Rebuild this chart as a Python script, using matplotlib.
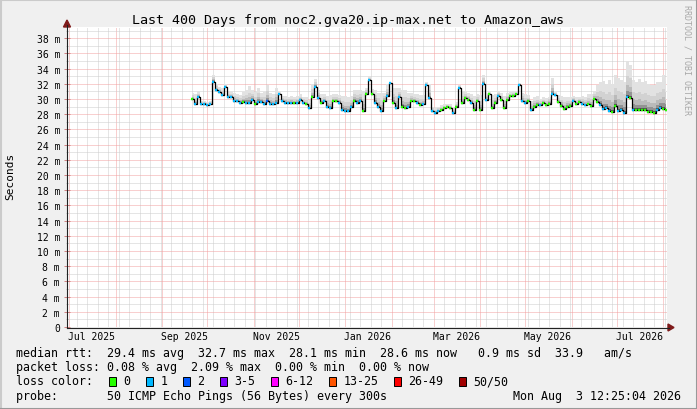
import numpy as np
import pandas as pd
import matplotlib
matplotlib.use('Agg')
import matplotlib.pyplot as plt
import matplotlib.dates as mdates
import matplotlib.transforms as mtransforms
from matplotlib.patches import Rectangle, Polygon
from matplotlib.lines import Line2D

# ---------------- data ----------------
title = "Last 400 Days from noc2.gva20.ip-max.net to Amazon_aws"
end_time = pd.Timestamp('2026-08-03 12:25:04')
span_days = 400
first_sample = '2025-09-21'
sample_step = '2D'

median_ms = [
    30.0, 29.3, 30.3, 29.3, 29.4, 29.2, 29.3, 32.3, 31.2, 30.9,
    30.5, 31.6, 30.2, 30.3, 29.7, 29.7, 29.5, 29.6, 29.5, 29.5,
    29.9, 29.3, 29.6, 29.6, 29.3, 29.7, 29.3, 29.3, 29.5, 30.6,
    29.7, 29.5, 29.5, 29.5, 29.5, 29.5, 29.9, 29.5, 29.3, 28.8,
    30.2, 31.6, 30.1, 29.5, 29.7, 29.0, 28.8, 29.7, 29.7, 29.5,
    28.6, 28.4, 28.4, 29.0, 29.7, 29.5, 29.7, 28.4, 30.6, 32.5,
    30.6, 29.5, 29.0, 28.4, 29.7, 30.4, 32.1, 29.5, 28.8, 30.2,
    29.0, 28.8, 29.0, 29.7, 29.7, 29.5, 29.2, 29.3, 31.8, 30.1,
    28.4, 28.2, 28.4, 28.6, 28.8, 29.0, 28.8, 28.1, 29.0, 31.5,
    29.5, 30.1, 29.9, 29.5, 28.6, 29.7, 28.6, 32.0, 29.9, 30.6,
    28.8, 29.5, 30.4, 29.9, 28.8, 29.9, 30.4, 30.4, 30.6, 31.9,
    29.7, 29.5, 29.7, 28.6, 29.0, 29.2, 29.2, 29.5, 29.2, 29.4,
    30.7, 30.5, 29.6, 29.1, 28.7, 29.0, 29.1, 29.7, 29.3, 29.6,
    29.3, 29.2, 29.3, 29.1, 30.0, 29.6, 29.2, 28.7, 28.8, 28.4,
    28.3, 29.1, 28.4, 28.5, 28.2, 30.2, 30.1, 28.6, 28.6, 28.5,
    28.5, 28.5, 28.3, 28.3, 28.2, 28.6, 28.8, 28.7, 28.6,
]

smoke_max_ms = [
    30.8, 30.7, 31.0, 29.8, 29.7, 29.6, 29.7, 33.2, 32.0, 31.6,
    31.5, 32.0, 31.0, 31.0, 30.8, 30.6, 30.5, 30.9, 31.2, 31.7,
    31.2, 30.9, 31.5, 30.8, 30.9, 31.9, 30.8, 30.6, 31.5, 31.0,
    30.4, 30.4, 30.3, 30.4, 30.3, 30.4, 30.6, 30.3, 30.2, 29.9,
    32.0, 32.6, 31.2, 30.6, 30.6, 30.4, 30.5, 30.6, 30.6, 30.5,
    30.4, 30.4, 30.3, 30.4, 31.2, 31.2, 31.2, 31.0, 31.5, 33.0,
    31.3, 31.2, 30.8, 30.8, 30.8, 32.0, 32.2, 31.5, 31.4, 31.4,
    31.2, 31.2, 30.8, 30.8, 30.6, 30.6, 30.5, 30.5, 32.2, 32.0,
    29.0, 28.8, 29.0, 29.2, 29.3, 29.4, 29.3, 28.9, 29.6, 31.8,
    31.0, 31.0, 30.8, 30.6, 30.4, 30.6, 30.5, 33.2, 30.8, 31.0,
    30.5, 30.6, 31.0, 30.8, 30.4, 30.8, 30.9, 31.0, 31.0, 32.1,
    30.8, 30.6, 30.5, 29.8, 30.2, 30.4, 30.0, 30.2, 30.1, 30.3,
    32.8, 30.9, 30.5, 30.4, 30.3, 30.2, 30.2, 30.4, 30.3, 30.3,
    30.4, 30.3, 30.6, 30.7, 31.0, 31.8, 32.2, 32.4, 32.0, 32.5,
    32.0, 33.1, 32.8, 32.5, 32.2, 35.0, 34.5, 32.5, 32.3, 32.6,
    32.2, 32.4, 32.0, 31.8, 31.8, 32.2, 32.3, 33.1, 32.4,
]

loss_count = [
    0, 1, 1, 1, 1, 1, 1, 1, 1, 1,
    1, 1, 1, 1, 1, 1, 1, 0, 1, 1,
    1, 0, 1, 1, 1, 2, 1, 1, 1, 1,
    1, 1, 1, 1, 0, 1, 1, 1, 0, 1,
    0, 1, 1, 0, 1, 1, 1, 0, 0, 1,
    1, 1, 1, 1, 0, 1, 1, 0, 0, 1,
    0, 1, 1, 1, 0, 1, 1, 0, 1, 1,
    0, 0, 1, 0, 0, 1, 0, 1, 1, 1,
    1, 1, 1, 0, 0, 0, 0, 1, 0, 1,
    0, 0, 0, 1, 0, 0, 0, 1, 1, 0,
    0, 0, 1, 0, 0, 0, 0, 0, 0, 1,
    1, 1, 0, 1, 0, 0, 1, 0, 0, 0,
    1, 1, 0, 0, 0, 0, 0, 1, 0, 0,
    1, 1, 0, 0, 0, 0, 1, 1, 1, 1,
    0, 0, 1, 1, 1, 1, 0, 1, 0, 0,
    0, 0, 0, 0, 0, 1, 1, 0, 0,
]

loss_labels = ['0', '1', '2', '3-5', '6-12', '13-25', '26-49', '50/50']
loss_colors = ['#26ff00', '#00b8ff', '#0059ff', '#7e00ff', '#ff00ff',
               '#ff5500', '#ff0000', '#a10000']

x_labels = ['Jul 2025', 'Sep 2025', 'Nov 2025', 'Jan 2026', 'Mar 2026',
            'May 2026', 'Jul 2026']
y_ticks = list(range(0, 40, 2))
y_labels = ['0' if v == 0 else f'{v} m' for v in y_ticks]

legend_rtt = "median rtt:  29.4 ms avg  32.7 ms max  28.1 ms min  28.6 ms now   0.9 ms sd  33.9   am/s"
legend_loss = "packet loss: 0.08 % avg  2.09 % max  0.00 % min  0.00 % now"
legend_probe = "probe:       50 ICMP Echo Pings (56 Bytes) every 300s"
legend_date = "Mon Aug  3 12:25:04 2026"

# ---------------- layout ----------------
W, H = 697, 410
MONO = 'DejaVu Sans Mono'
plt.rcParams['font.family'] = [MONO, 'DejaVu Sans']

fig = plt.figure(figsize=(W / 100, H / 100), dpi=100, facecolor='#F0F0F0')

def fx(px):
    return px / W

def fy(py):
    return 1 - py / H

PX_PER_MS = 7.6
ax = fig.add_axes([fx(67), fy(328), fx(600), 300 / H])
ax.set_facecolor('white')
start_time = end_time - pd.Timedelta(days=span_days)
ax.set_xlim(start_time, end_time)
ax.set_ylim(0, 300 / PX_PER_MS)

n = min(len(median_ms), len(smoke_max_ms), len(loss_count))
dates = pd.date_range(first_sample, periods=n, freq=sample_step)
med = np.array(median_ms[:n])
hi = np.array(smoke_max_ms[:n])
loss = loss_count[:n]

# grid
ax.xaxis.set_major_locator(mdates.MonthLocator())
ax.xaxis.set_minor_locator(mdates.WeekdayLocator(byweekday=mdates.SU))
ax.xaxis.set_major_formatter(plt.NullFormatter())
ax.set_yticks(y_ticks)
ax.set_yticklabels(y_labels)
ax.set_yticks(range(1, 40, 2), minor=True)
ax.set_axisbelow(True)
ax.grid(which='minor', color='#cccccc', linestyle=(0, (1, 1)), linewidth=0.72,
        snap=True)
ax.grid(which='major', color='#f2a0a0', linestyle=(0, (1, 1)), linewidth=0.72,
        snap=True)
for s in ax.spines.values():
    s.set_visible(False)
ax.tick_params(axis='y', which='major', direction='inout', length=4, width=0.7,
               color='#d08080', pad=3, labelsize=7, labelcolor='black')
ax.tick_params(axis='y', which='minor', direction='inout', length=2, width=0.6,
               color='#bbbbbb')
ax.tick_params(axis='x', which='both', length=0)
for lab in ax.get_yticklabels():
    lab.set_fontfamily(MONO)

# smoke
layers = [(1.0, '#e2e2e2'), (0.6, '#d2d2d2'), (0.35, '#bababa'),
          (0.18, '#939393'), (0.07, '#525252')]
for frac, col in layers:
    ax.fill_between(dates, med, med + frac * (hi - med), step='mid',
                    color=col, linewidth=0, zorder=2)

# median line
ax.plot(dates, med, drawstyle='steps-mid', color='black', lw=0.9, zorder=3)
half = pd.Timedelta(days=0.8)
ax.hlines(med, dates - half, dates + half,
          colors=[loss_colors[min(l, 7)] for l in loss], lw=1.7, zorder=4)

# x labels (centred in the month)
bt = mtransforms.blended_transform_factory(ax.transData, fig.transFigure)
for lab in x_labels:
    d = pd.to_datetime(lab, format='%b %Y') + pd.Timedelta(days=15)
    ax.text(d, fy(340.5), lab, transform=bt, ha='center', va='baseline',
            fontsize=7, fontfamily=MONO, clip_on=False)

# axes lines + arrows
axis_col = '#222222'
arrow_col = '#7f1a1a'
fig.add_artist(Line2D([fx(66.5), fx(669)], [fy(328.5), fy(328.5)],
                      color=axis_col, lw=0.8, transform=fig.transFigure))
fig.add_artist(Line2D([fx(67), fx(67)], [fy(329), fy(26)],
                      color=axis_col, lw=0.8, transform=fig.transFigure))
fig.add_artist(Polygon([[fx(668), fy(325)], [fx(668), fy(332)], [fx(674), fy(328.5)]],
                       closed=True, color=arrow_col, transform=fig.transFigure))
fig.add_artist(Polygon([[fx(63.5), fy(28)], [fx(70.5), fy(28)], [fx(67), fy(21)]],
                       closed=True, color=arrow_col, transform=fig.transFigure))

# title, axis label, watermark
fig.text(fx(348), fy(24), title, ha='center', va='baseline', fontsize=9.6,
         fontfamily=MONO)
fig.text(fx(10), fy(176), 'Seconds', rotation=90, ha='center', va='center',
         fontsize=8, fontfamily=MONO)
fig.text(fx(687.5), fy(5), 'RRDTOOL / TOBI OETIKER', rotation=270, ha='center',
         va='top', fontsize=6, fontfamily=MONO, color='#a8a8a8')

# legend
LS = 8.4
fig.text(fx(16), fy(357), legend_rtt, ha='left', va='baseline', fontsize=LS, fontfamily=MONO)
fig.text(fx(16), fy(371.5), legend_loss, ha='left', va='baseline', fontsize=LS, fontfamily=MONO)
fig.text(fx(16), fy(385.5), 'loss color:', ha='left', va='baseline', fontsize=LS, fontfamily=MONO)
bx = 108.5
for lab, col in zip(loss_labels, loss_colors):
    fig.add_artist(Rectangle((fx(bx), fy(386.5)), 7 / W, 9 / H, facecolor=col,
                             edgecolor='black', lw=0.7, transform=fig.transFigure))
    fig.text(fx(bx + 15), fy(385.5), lab, ha='left', va='baseline', fontsize=LS,
             fontfamily=MONO)
    bx += 30 + 7 * len(lab)
fig.text(fx(16), fy(400), legend_probe, ha='left', va='baseline', fontsize=LS, fontfamily=MONO)
fig.text(fx(681), fy(400), legend_date, ha='right', va='baseline', fontsize=LS, fontfamily=MONO)

# frame shading
fig.add_artist(Line2D([0, 1], [fy(0.5), fy(0.5)], color='#cbcbcb', lw=1.5, transform=fig.transFigure))
fig.add_artist(Line2D([fx(0.5), fx(0.5)], [0, 1], color='#cbcbcb', lw=1.5, transform=fig.transFigure))
fig.add_artist(Line2D([0, 1], [fy(409.5), fy(409.5)], color='#999999', lw=1.5, transform=fig.transFigure))
fig.add_artist(Line2D([fx(696.5), fx(696.5)], [0, 1], color='#999999', lw=1.5, transform=fig.transFigure))

fig.savefig('out.png', dpi=100, facecolor=fig.get_facecolor())
